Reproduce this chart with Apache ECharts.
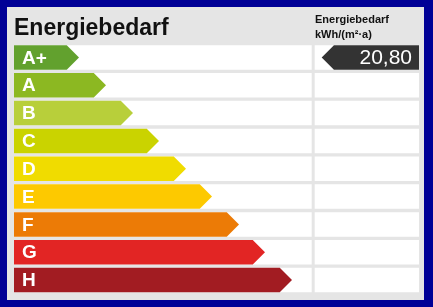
<!DOCTYPE html>
<html><head><meta charset="utf-8">
<script src="https://cdn.jsdelivr.net/npm/echarts@6/dist/echarts.min.js"></script>
<style>html,body{margin:0;padding:0;background:#000096}#c{width:433px;height:307px}</style>
</head><body><div id="c"></div>
<script>
// ---- data ----
const categories = ['A+', 'A', 'B', 'C', 'D', 'E', 'F', 'G', 'H'];
const barLengths = [65, 92, 119, 145, 172, 198, 225, 251, 278];
const barColors = ['#62a12e', '#8cb822', '#b8cf3a', '#cad300', '#f0dc00', '#fdc900', '#ec7b06', '#e22524', '#a21c22'];
const scaleMax = 297.7;
const indicatorClass = 'A+';
const indicatorValue = 20.80;
const titleText = 'Energiebedarf';
const headerLines = ['Energiebedarf', 'kWh/(m²·a)'];

const FONT = '"Liberation Sans", Arial, Helvetica, sans-serif';
const ROW_H = 24.5;

const chart = echarts.init(document.getElementById('c'), null, {renderer: 'canvas'});

function cellRender(params, api) {
  const cs = params.coordSys;
  const c = api.coord([0, api.value(1)]);
  return {
    type: 'rect',
    shape: {x: cs.x, y: c[1] - ROW_H / 2, width: cs.width, height: ROW_H},
    style: {fill: '#ffffff'}
  };
}

function barRender(params, api) {
  const i = api.value(1);
  const p0 = api.coord([0, i]);
  const p1 = api.coord([api.value(0), i]);
  const h = ROW_H, d = h / 2;
  return {
    type: 'group',
    children: [{
      type: 'polygon',
      shape: {points: [[p0[0], p1[1] - h / 2], [p1[0] - d, p1[1] - h / 2], [p1[0], p1[1]], [p1[0] - d, p1[1] + h / 2], [p0[0], p1[1] + h / 2]]},
      style: {fill: barColors[params.dataIndex]}
    }, {
      type: 'text',
      x: p0[0] + 8, y: p1[1] + 1,
      style: {text: categories[i], fill: '#ffffff', font: 'bold 19px ' + FONT, verticalAlign: 'middle', align: 'left'}
    }]
  };
}

function indicatorRender(params, api) {
  const cs = params.coordSys;
  const i = api.value(1);
  const c = api.coord([0, i]);
  const h = ROW_H, d = h / 2;
  const left = cs.x + 7, right = cs.x + cs.width;
  const v = api.value(2);
  return {
    type: 'group',
    children: [{
      type: 'polygon',
      shape: {points: [[left, c[1]], [left + d, c[1] - h / 2], [right, c[1] - h / 2], [right, c[1] + h / 2], [left + d, c[1] + h / 2]]},
      style: {fill: '#333333'}
    }, {
      type: 'text',
      x: right - 7, y: c[1] + 1,
      style: {text: v.toFixed(2).replace('.', ','), fill: '#ffffff', font: '21px ' + FONT, verticalAlign: 'middle', align: 'right'}
    }]
  };
}

const rowIdx = categories.map((c, i) => i);

chart.setOption({
  animation: false,
  backgroundColor: '#000096',
  title: [{
    text: titleText, left: 14, top: 17, padding: 0,
    textStyle: {fontFamily: FONT, fontSize: 23, fontWeight: 'bold', color: '#111111', lineHeight: 23}
  }, {
    text: headerLines.join('\n'), left: 315, top: 12, padding: 0,
    textStyle: {fontFamily: FONT, fontSize: 11, fontWeight: 'bold', color: '#111111', lineHeight: 15}
  }],
  graphic: [{
    type: 'rect', z: 0, shape: {x: 7, y: 7, width: 417, height: 293},
    style: {fill: '#e5e5e5'}
  }],
  grid: [
    {left: 14, width: 297.7, top: 43.5, height: 250.5},
    {left: 314.7, width: 104.3, top: 43.5, height: 250.5}
  ],
  xAxis: [
    {type: 'value', gridIndex: 0, min: 0, max: scaleMax, show: false},
    {type: 'value', gridIndex: 1, min: 0, max: 1, show: false}
  ],
  yAxis: [
    {type: 'category', gridIndex: 0, data: categories, inverse: true, show: false},
    {type: 'category', gridIndex: 1, data: categories, inverse: true, show: false}
  ],
  series: [{
    type: 'custom', xAxisIndex: 0, yAxisIndex: 0, z: 2,
    data: rowIdx.map(i => [scaleMax, i]), encode: {x: 0, y: 1},
    renderItem: cellRender, silent: true
  }, {
    type: 'custom', xAxisIndex: 1, yAxisIndex: 1, z: 2,
    data: rowIdx.map(i => [1, i]), encode: {x: 0, y: 1},
    renderItem: cellRender, silent: true
  }, {
    type: 'custom', xAxisIndex: 0, yAxisIndex: 0, z: 3,
    data: barLengths.map((v, i) => [v, i]), encode: {x: 0, y: 1},
    renderItem: barRender
  }, {
    type: 'custom', xAxisIndex: 1, yAxisIndex: 1, z: 3,
    data: [[1, categories.indexOf(indicatorClass), indicatorValue]], encode: {x: 0, y: 1},
    renderItem: indicatorRender
  }]
});
</script>
</body></html>
